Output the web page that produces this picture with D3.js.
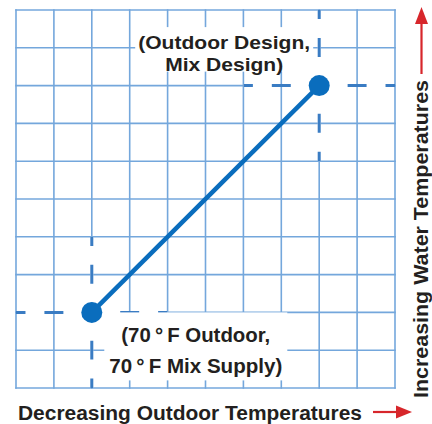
<!DOCTYPE html>
<html><head><meta charset="utf-8">
<script src="https://cdn.jsdelivr.net/npm/d3@7"></script>
<style>
html,body{margin:0;padding:0;background:#fff;}
svg{display:block;}
text{font-family:"Liberation Sans",Arial,Helvetica,sans-serif;font-weight:bold;fill:#231f20;}
</style></head>
<body>
<svg id="chart" width="432" height="424"></svg>
<script>
// ---- data ----
const gridX = [0,1,2,3,4,5,6,7,8,9,10];       // outdoor temperature grid steps
const gridY = [0,1,2,3,4,5,6,7,8,9,10];       // water temperature grid steps
const pointX = [2, 8];                         // reset curve end points (grid units)
const pointY = [2, 8];
const pointLabels = [
  ["(70\u2009°\u2009F Outdoor,", "70\u2009°\u2009F Mix Supply)"],
  ["(Outdoor Design,", "Mix Design)"]
];
const xTitle = "Decreasing Outdoor Temperatures";
const yTitle = "Increasing Water Temperatures";

// ---- layout ----
const svg = d3.select("#chart");
const x = d3.scaleLinear().domain([0,10]).range([16,395]);
const y = d3.scaleLinear().domain([0,10]).range([388,10]);
const unit = x(1) - x(0);
const gridColor = "#74a7dc", dashColor = "#3a7cc3", lineColor = "#0a6dbd", red = "#d7262b";

// grid
const g = svg.append("g");
g.selectAll("line.v").data(gridX).join("line")
  .attr("x1", d => x(d)).attr("x2", d => x(d))
  .attr("y1", y(0)+0.8).attr("y2", y(10)-0.8)
  .attr("stroke", gridColor).attr("stroke-width", 1.6);
g.selectAll("line.h").data(gridY).join("line")
  .attr("y1", d => y(d)).attr("y2", d => y(d))
  .attr("x1", x(0)-0.8).attr("x2", x(10)+0.8)
  .attr("stroke", gridColor).attr("stroke-width", 1.6);

// dashed reference lines (+-2 grid units around each point, clipped to frame)
const segs = [];
pointX.forEach((px, i) => {
  const py = pointY[i];
  segs.push({x1: Math.max(0, px-2), x2: Math.min(10, px+2), y1: py, y2: py});
  segs.push({x1: px, x2: px, y1: Math.max(0, py-2), y2: Math.min(10, py+2)});
});
svg.append("g").selectAll("line").data(segs).join("line")
  .attr("x1", d => x(d.x1)).attr("x2", d => x(d.x2))
  .attr("y1", d => y(d.y1)).attr("y2", d => y(d.y2))
  .attr("stroke", "#fff").attr("stroke-width", 3);
svg.append("g").selectAll("line").data(segs).join("line")
  .attr("x1", d => x(d.x1)).attr("x2", d => x(d.x2))
  .attr("y1", d => y(d.y1)).attr("y2", d => y(d.y2))
  .attr("stroke", dashColor).attr("stroke-width", 3)
  .attr("stroke-dasharray", `${unit/2} ${unit/2}`)
  .attr("stroke-dashoffset", unit/4);

// labels with white background (one text element, one tspan per line)
const labelOffsets = [{dx: 104, dy: [30, 61], w: [149, 173], fs: 20, padX: 5, padTop: 16, padBot: 7},
                      {dx: -95, dy: [-36.5, -15], w: [172, 118], fs: 19, padX: 3, padTop: 8, padBot: 1}];
pointLabels.forEach((lines, i) => {
  const o = labelOffsets[i];
  const cx = x(pointX[i]) + o.dx, by = y(pointY[i]);
  const lg = svg.append("g");
  const rect = lg.append("rect").attr("fill", "#fff");
  const t = lg.append("text").attr("font-size", o.fs);
  t.selectAll("tspan").data(lines).join("tspan")
    .attr("x", (d, j) => cx - o.w[j]/2).attr("y", (d, j) => by + o.dy[j])
    .attr("textLength", (d, j) => o.w[j]).attr("lengthAdjust", "spacingAndGlyphs")
    .text(d => d);
  const x0 = cx - d3.max(o.w)/2, x1 = cx + d3.max(o.w)/2;
  rect.attr("x", x0 - o.padX).attr("width", x1 - x0 + 2*o.padX)
      .attr("y", by + o.dy[0] - 14 - o.padTop).attr("height", (o.dy[1]-o.dy[0]) + 14 + o.padTop + o.padBot);
});

// reset line and points
svg.append("line")
  .attr("x1", x(pointX[0])).attr("y1", y(pointY[0]))
  .attr("x2", x(pointX[1])).attr("y2", y(pointY[1]))
  .attr("stroke", lineColor).attr("stroke-width", 4.5);
svg.append("g").selectAll("circle").data(pointX).join("circle")
  .attr("cx", d => x(d)).attr("cy", (d, i) => y(pointY[i])).attr("r", 10.5)
  .attr("fill", lineColor);

// axis titles
svg.append("text").attr("x", 18).attr("y", 420).attr("font-size", 20)
  .attr("textLength", 344).attr("lengthAdjust", "spacingAndGlyphs").text(xTitle);
svg.append("text").attr("transform", "translate(428,398) rotate(-90)").attr("font-size", 20)
  .attr("textLength", 318).attr("lengthAdjust", "spacingAndGlyphs").text(yTitle);

// red arrows
svg.append("line").attr("x1", 373).attr("x2", 398).attr("y1", 412).attr("y2", 412)
  .attr("stroke", red).attr("stroke-width", 2.2);
svg.append("path").attr("d", "M412,412 L396,405.5 L396,418.5 Z").attr("fill", red);
svg.append("line").attr("x1", 421.5).attr("x2", 421.5).attr("y1", 74).attr("y2", 22)
  .attr("stroke", red).attr("stroke-width", 2.2);
svg.append("path").attr("d", "M421.5,7 L415,24 L428,24 Z").attr("fill", red);
</script>
</body></html>
